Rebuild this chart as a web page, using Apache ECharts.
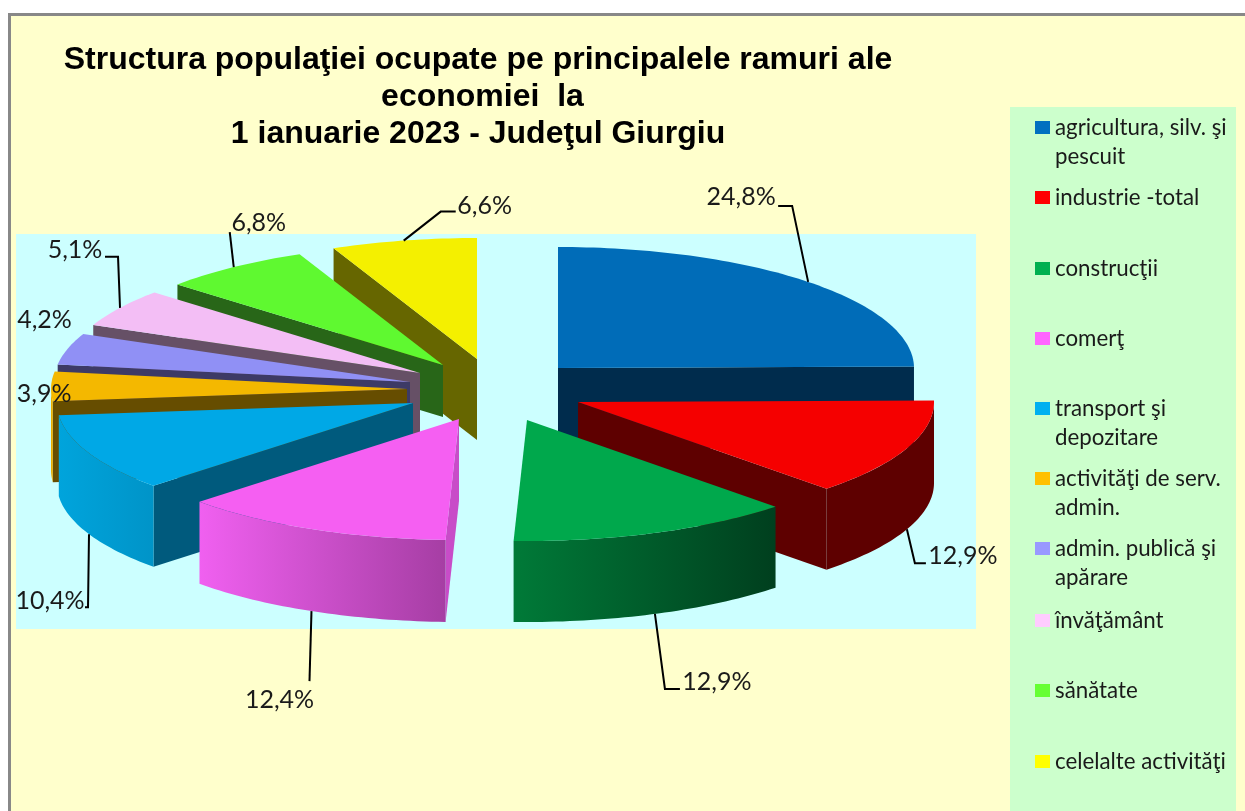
<!DOCTYPE html>
<html><head><meta charset="utf-8">
<style>html,body{margin:0;padding:0;background:#fff}#c{width:1245px;height:811px}</style>
<script src="https://cdn.jsdelivr.net/npm/echarts@6/dist/echarts.min.js"></script>
</head><body><div id="c"></div>
<script>
var titleLines = ['Structura populaţiei ocupate pe principalele ramuri ale', ' economiei  la', '1 ianuarie 2023 - Judeţul Giurgiu'];
var categories = ['agricultura, silv. şi\npescuit', 'industrie -total', 'construcţii', 'comerţ', 'transport şi\ndepozitare', 'activităţi de serv.\nadmin.', 'admin. publică şi\napărare', 'învăţământ', 'sănătate', 'celelalte activităţi'];
var values = [24.8, 12.9, 12.9, 12.4, 10.4, 3.9, 4.2, 5.1, 6.8, 6.6];

// styling: colours of top, cut walls and outer wall (left, right)
var topColors = ['#006CB8', '#F50000', '#00A84C', '#F55FF2', '#00A8E6', '#F4B800', '#9090F5', '#F3BEF5', '#5FF930', '#F4F000'];
var legendColors = ['#0070C0', '#FF0000', '#00B050', '#FF66FF', '#00B0F0', '#FFC000', '#9999FF', '#FFCCFF', '#66FF33', '#FFFF00'];
var cutColors = ['#002C4D', '#5E0000', '#00431F', '#C84CC8', '#005A7D', '#664D00', '#3D3A66', '#665066', '#286618', '#666600'];
var outerLeft = ['#002C4D', '#5E0000', '#007A38', '#F060F0', '#00A4DC', '#F0B000', '#3D3A66', '#665066', '#286618', '#666600'];
var outerRight = ['#002C4D', '#5E0000', '#003F1E', '#A63EA4', '#0094C8', '#E0A800', '#3D3A66', '#665066', '#286618', '#666600'];

// layout of the exploded 3D pie: apex of each slice on the page, ellipse radii, extrusion depth
var apexes = [[558, 368], [578, 402], [527, 420], [459, 419], [413, 403], [407, 389], [410, 382], [420, 373], [443, 365], [477, 359]];
var depths = [81, 81, 81, 82, 81, 81, 81, 81, 52, 81];
var RX = 356, RY = 121;
var paintOrder = [9, 8, 7, 6, 5, 0, 1, 2, 4, 3];

// label placement relative to the anchor on the slice rim
var labelOffsets = [[-67, -85], [56, 27], [62, 68], [-32, 89], [-39, 67], [-7, 8], [-23, -29], [-45, -58], [25, -44], [81, -35]];
var leaderBends = [[[-16, -76], [-30, -76]], [[8, 34], [19, 34]], [[10, 75], [25, 75]], [[-2, 70]], [[-1, 73], [-4, 73]], [], [], [[-2, -51], [-15, -51]], [[-4, -35]], [[37, -29], [52, -29]]];

var total = values.reduce(function (a, b) { return a + b; }, 0);
var starts = [], acc = 0;
values.forEach(function (v) { starts.push(acc / total * 2 * Math.PI); acc += v; });

function pt(i, th, dy) {
  return [apexes[i][0] + RX * Math.sin(th), apexes[i][1] - RY * Math.cos(th) + (dy || 0)];
}
function arc(i, a, b, dy) {
  var n = Math.max(2, Math.ceil(Math.abs(b - a) / 0.02)), out = [];
  for (var k = 0; k <= n; k++) out.push(pt(i, a + (b - a) * k / n, dy));
  return out;
}
function poly(points, fill) {
  return { type: 'polygon', silent: true, shape: { points: points }, style: { fill: fill, stroke: null } };
}
function sliceShapes(i, v) {
  var a = starts[i], b = a + v / total * 2 * Math.PI, d = depths[i], O = apexes[i], kids = [];
  var M = pt(i, (a + b) / 2);
  [a, b].forEach(function (th) {
    var P = pt(i, th), dx = P[0] - O[0], dy = P[1] - O[1];
    var cross = dx * (M[1] - O[1]) - dy * (M[0] - O[0]);
    if (Math.abs(dx) > 0.5 && (dx > 0 ? cross < 0 : cross > 0)) {
      kids.push(poly([O, P, [P[0], P[1] + d], [O[0], O[1] + d]], cutColors[i]));
    }
  });
  var fa = Math.max(a, Math.PI / 2), fb = Math.min(b, Math.PI * 1.5);
  if (fb > fa) {
    var top = arc(i, fa, fb), bottom = arc(i, fb, fa, d);
    kids.push(poly(top.concat(bottom), new echarts.graphic.LinearGradient(0, 0, 1, 0, [
      { offset: 0, color: outerLeft[i] }, { offset: 1, color: outerRight[i] }])));
  }
  kids.push(poly([O].concat(arc(i, a, b)), topColors[i]));
  return kids;
}
function makeSliceSeries(i) {
  return {
    type: 'custom', coordinateSystem: 'none', name: categories[i], z: 2 + paintOrder.indexOf(i),
    animation: false, silent: true, itemStyle: { color: legendColors[i] },
    data: [[values[i]]],
    renderItem: function (p, api) { return { type: 'group', children: sliceShapes(i, api.value(0)) }; }
  };
}
var labelSeries = {
  type: 'custom', coordinateSystem: 'none', name: 'labels', z: 30, animation: false, silent: true,
  data: values.map(function (v) { return [v]; }),
  renderItem: function (p, api) {
    var i = p.dataIndex, v = api.value(0);
    var th = starts[i] + v / total * Math.PI;
    var front = th > Math.PI / 2 && th < Math.PI * 1.5;
    var A = pt(i, th, front ? depths[i] : 0), kids = [];
    if (leaderBends[i].length) {
      var pts = [A].concat(leaderBends[i].map(function (o) { return [A[0] + o[0], A[1] + o[1]]; }));
      kids.push({ type: 'polyline', silent: true, shape: { points: pts }, style: { stroke: '#000', lineWidth: 2, fill: null } });
    }
    var tx = labelAnchor(i, A);
    kids.push({ type: 'text', silent: true, style: { x: tx[0], y: tx[1], text: v.toFixed(1).replace('.', ',') + '%', align: 'center', verticalAlign: 'middle', fill: '#1A1A1A', font: '25px Lato' } });
    return { type: 'group', children: kids };
  }
};
function labelAnchor(i, A) { return [A[0] + labelOffsets[i][0], A[1] + labelOffsets[i][1]]; }

var legendTops = [127, 197, 268, 338, 408, 478, 548, 620, 690, 761];
var LH = 29;
var legends = categories.map(function (c, i) {
  var two = c.indexOf('\n') >= 0;
  var off = two ? 37 : 8;
  return {
    show: true, data: [c], left: 1035, top: legendTops[i] - 6 - off, padding: 0, orient: 'vertical',
    icon: 'rect', itemWidth: 15, itemHeight: 13, itemGap: 6, selectedMode: false,
    formatter: function (n) { return two ? '\n' + n : n; },
    textStyle: { fontFamily: 'Lato', fontSize: 22.3, color: '#1A1A1A', lineHeight: LH }
  };
});

var chart = echarts.init(document.getElementById('c'), null, { renderer: 'canvas' });
chart.setOption({
  animation: false,
  backgroundColor: '#fff',
  title: {
    text: titleLines.join('\n'), left: 473, top: 37, textAlign: 'center',
    textStyle: { fontFamily: 'Liberation Sans', fontWeight: 'bold', fontSize: 32, lineHeight: 37, color: '#000' }
  },
  legend: legends,
  graphic: { elements: [
    { type: 'rect', z: 0, silent: true, shape: { x: 9.5, y: 14.5, width: 1300, height: 900 }, style: { fill: '#FFFFCC', stroke: '#888', lineWidth: 3 } },
    { type: 'rect', z: 1, silent: true, shape: { x: 16, y: 234, width: 960, height: 395 }, style: { fill: '#CCFFFF' } },
    { type: 'rect', z: 1, silent: true, shape: { x: 1010, y: 107, width: 226, height: 710 }, style: { fill: '#CCFFCC' } }
  ] },
  series: categories.map(function (c, i) { return makeSliceSeries(i); }).concat([labelSeries])
});
</script></body></html>
